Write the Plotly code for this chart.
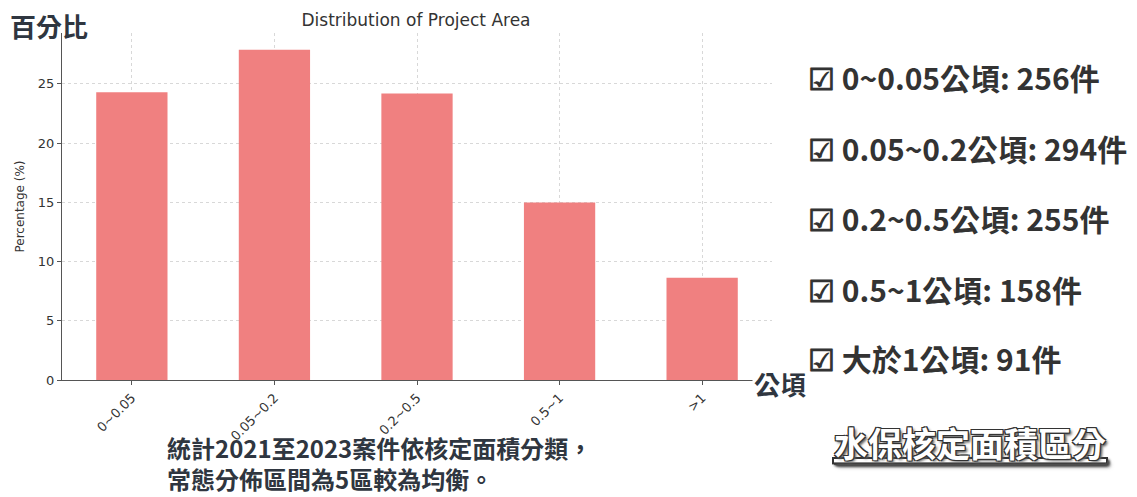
import plotly.graph_objects as go

categories = ["0~0.05", "0.05~0.2", "0.2~0.5", "0.5~1", ">1"]
counts = [256, 294, 255, 158, 91]
total = sum(counts)
percentages = [c / total * 100 for c in counts]
list_labels = ["0~0.05公頃", "0.05~0.2公頃", "0.2~0.5公頃", "0.5~1公頃", "大於1公頃"]
y_ticks = [0, 5, 10, 15, 20, 25]
note_lines = ["統計2021至2023案件依核定面積分類，", "常態分佈區間為5區較為均衡。"]

OFF = 8  # page body margin offset
L, R, T, B = 62 - OFF, 772 - OFF, 33 - OFF, 380 - OFF
W, H = 1137 - OFF, 497 - OFF
PW, PH = R - L, B - T


def px(x):
    return (x - OFF - L) / PW


def py(y):
    return (B - (y - OFF)) / PH


fig = go.Figure()
fig.add_trace(go.Bar(
    x=list(range(len(categories))), y=percentages, width=0.5,
    marker=dict(color="#F08080", line=dict(width=0)),
))

fig.update_layout(
    width=W, height=H,
    margin=dict(l=L, r=W - R, t=T, b=H - B),
    paper_bgcolor="white", plot_bgcolor="white",
    showlegend=False,
    title=dict(text="Distribution of Project Area", x=(416 - OFF) / W, xanchor="center",
               y=1 - (20 - OFF) / H, yanchor="middle",
               font=dict(family="DejaVu Sans", size=17, color="#333")),
    font=dict(family="DejaVu Sans", color="#333"),
)
fig.update_xaxes(
    range=[-0.49, 4.49], tickvals=list(range(len(categories))), ticktext=categories,
    tickangle=-45, showgrid=True, gridcolor="#d8d8d8", griddash="dot",
    showline=True, linecolor="#555", linewidth=1.2, ticks="outside", ticklen=4,
    tickcolor="#555", tickfont=dict(size=13, color="#333"), zeroline=False,
    automargin=False,
)
fig.update_yaxes(
    range=[0, 29.3], tickvals=y_ticks, showgrid=True, gridcolor="#d8d8d8", griddash="dot",
    showline=True, linecolor="#555", linewidth=1.2, ticks="outside", ticklen=4,
    tickcolor="#555", tickfont=dict(size=13, color="#333"), zeroline=False,
    title=dict(text="Percentage (%)", font=dict(size=12, color="#333"), standoff=10),
    automargin=False,
)

cjk = "Noto Sans CJK TC"
fig.add_annotation(text="<b>百分比</b>", xref="paper", yref="paper", x=px(8), y=py(25),
                   xanchor="left", yanchor="middle", showarrow=False,
                   font=dict(family=cjk, size=26, color="#2f3640"))
fig.add_annotation(text="<b>公頃</b>", xref="paper", yref="paper", x=px(752), y=py(383),
                   xanchor="left", yanchor="middle", showarrow=False, bgcolor="white",
                   font=dict(family=cjk, size=26, color="#2f3640"))

list_y = [77, 148, 218, 289, 358]
for lab, c, yy in zip(list_labels, counts, list_y):
    fig.add_annotation(text=f"<b>☑ {lab}: {c}件</b>", xref="paper", yref="paper",
                       x=px(806), y=py(yy),
                       xanchor="left", yanchor="middle", showarrow=False,
                       font=dict(family=cjk, size=30, color="#333"))

for line, yy in zip(note_lines, [448, 479]):
    fig.add_annotation(text=f"<b>{line}</b>",
                       xref="paper", yref="paper", x=px(166), y=py(yy),
                       xanchor="left", yanchor="middle", align="left", showarrow=False,
                       borderpad=0,
                       font=dict(family=cjk, size=24, color="#2f3640"))

fig.add_annotation(text="<b>水保核定面積區分</b>", xref="paper", yref="paper",
                   x=px(970), y=py(442),
                   xanchor="center", yanchor="middle", showarrow=False,
                   font=dict(family=cjk, size=34, color="white", lineposition="under",
                             shadow="1px 1px 0 #333, -1px -1px 0 #333, 1px -1px 0 #333, -1px 1px 0 #333, 2px 2px 3px #666"))

fig.write_html("out.html")
